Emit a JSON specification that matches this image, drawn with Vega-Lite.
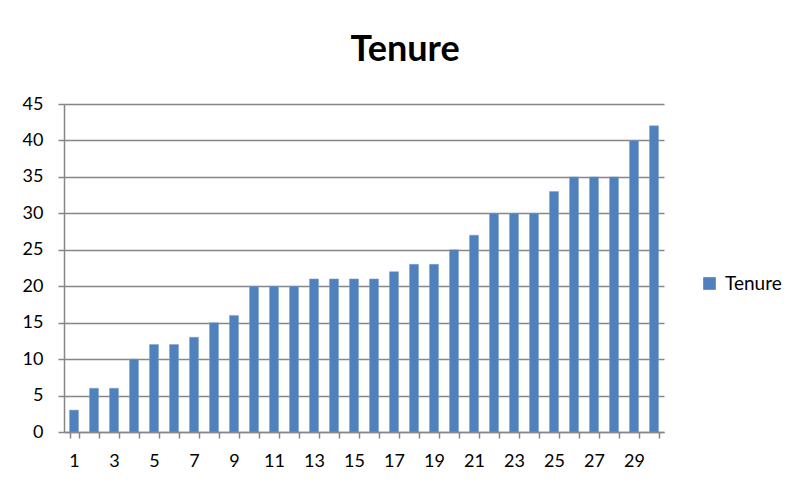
{
  "$schema": "https://vega.github.io/schema/vega-lite/v6.json",
  "width": 600,
  "height": 328,
  "autosize": {"type": "none"},
  "padding": {"left": 64, "top": 104, "right": 124, "bottom": 51},
  "background": "white",
  "title": {
    "text": "Tenure",
    "font": "Lato",
    "fontSize": 36,
    "fontWeight": "bold",
    "color": "#000000",
    "anchor": "middle",
    "frame": "group",
    "dx": 41,
    "baseline": "alphabetic",
    "offset": -2
  },
  "data": {
    "values": [
      {"n": 1, "tenure": 3}, {"n": 2, "tenure": 6}, {"n": 3, "tenure": 6},
      {"n": 4, "tenure": 10}, {"n": 5, "tenure": 12}, {"n": 6, "tenure": 12},
      {"n": 7, "tenure": 13}, {"n": 8, "tenure": 15}, {"n": 9, "tenure": 16},
      {"n": 10, "tenure": 20}, {"n": 11, "tenure": 20}, {"n": 12, "tenure": 20},
      {"n": 13, "tenure": 21}, {"n": 14, "tenure": 21}, {"n": 15, "tenure": 21},
      {"n": 16, "tenure": 21}, {"n": 17, "tenure": 22}, {"n": 18, "tenure": 23},
      {"n": 19, "tenure": 23}, {"n": 20, "tenure": 25}, {"n": 21, "tenure": 27},
      {"n": 22, "tenure": 30}, {"n": 23, "tenure": 30}, {"n": 24, "tenure": 30},
      {"n": 25, "tenure": 33}, {"n": 26, "tenure": 35}, {"n": 27, "tenure": 35},
      {"n": 28, "tenure": 35}, {"n": 29, "tenure": 40}, {"n": 30, "tenure": 42}
    ]
  },
  "mark": {"type": "bar", "stroke": "#7F9FCF", "strokeWidth": 0.5},
  "encoding": {
    "x": {
      "field": "n",
      "type": "ordinal",
      "sort": "ascending",
      "scale": {"paddingInner": 0.55, "paddingOuter": 0.275},
      "axis": {
        "title": null,
        "labelAngle": 0,
        "labelExpr": "datum.value % 2 == 1 ? datum.label : ''",
        "tickBand": "extent",
        "tickSize": 6,
        "labelPadding": 14,
        "labelFont": "Lato",
        "labelFontSize": 18,
        "labelColor": "#000000",
        "domainColor": "#868686",
        "tickColor": "#868686",
        "grid": false
      }
    },
    "y": {
      "field": "tenure",
      "type": "quantitative",
      "scale": {"domain": [0, 45], "nice": false},
      "axis": {
        "title": null,
        "values": [0, 5, 10, 15, 20, 25, 30, 35, 40, 45],
        "tickSize": 6,
        "labelPadding": 15,
        "labelFont": "Lato",
        "labelFontSize": 18,
        "labelColor": "#000000",
        "domainColor": "#868686",
        "tickColor": "#868686",
        "gridColor": "#868686",
        "grid": true
      }
    },
    "color": {
      "datum": "Tenure",
      "scale": {"range": ["#4F81BD"]},
      "legend": {
        "title": null,
        "orient": "none",
        "legendX": 636,
        "legendY": 170,
        "symbolType": "square",
        "symbolSize": 160,
        "symbolStrokeWidth": 0,
        "labelFont": "Lato",
        "labelFontSize": 19,
        "labelColor": "#000000",
        "labelOffset": 6
      }
    }
  },
  "config": {
    "view": {"stroke": null},
    "axis": {"domainWidth": 1.5, "gridWidth": 1.5, "tickWidth": 1.5}
  }
}
